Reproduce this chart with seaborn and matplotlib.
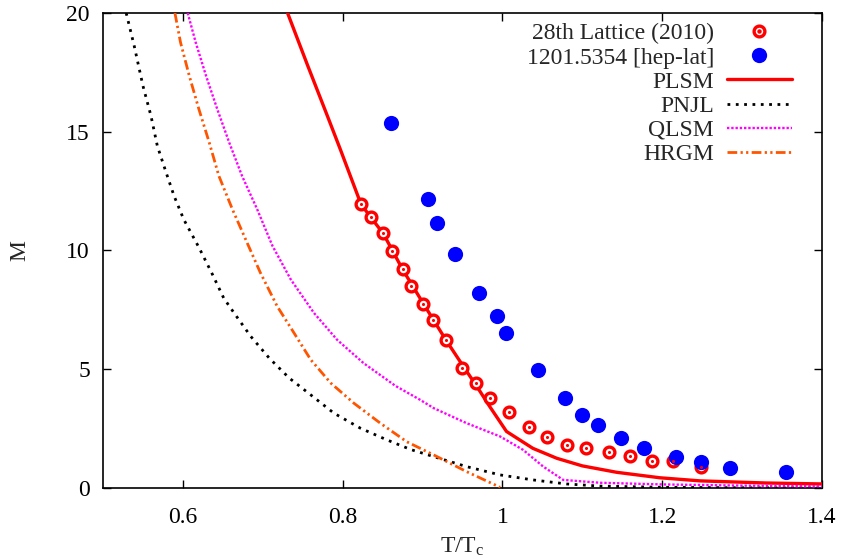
import matplotlib
matplotlib.use("Agg")
import matplotlib.pyplot as plt
import seaborn as sns
from matplotlib.lines import Line2D
from matplotlib.legend_handler import HandlerTuple

# Lattice data (red rings) and hep-lat data (blue dots)
lat_x = [0.823, 0.835, 0.851, 0.862, 0.875, 0.886, 0.901, 0.913, 0.929, 0.949, 0.967,
         0.984, 1.008, 1.033, 1.056, 1.081, 1.104, 1.133, 1.159, 1.187, 1.213, 1.248]
lat_y = [11.94, 11.39, 10.72, 9.96, 9.2, 8.52, 7.76, 7.09, 6.24, 5.06, 4.43,
         3.80, 3.21, 2.57, 2.15, 1.81, 1.69, 1.52, 1.35, 1.14, 1.14, 0.89]

hep_x = [0.861, 0.907, 0.918, 0.941, 0.971, 0.993, 1.004, 1.044, 1.078, 1.099,
         1.119, 1.148, 1.177, 1.217, 1.248, 1.285, 1.355]
hep_y = [15.36, 12.15, 11.14, 9.87, 8.23, 7.26, 6.54, 4.98, 3.80, 3.08,
         2.66, 2.11, 1.69, 1.31, 1.10, 0.84, 0.68]

# Model curves
plsm_x = [0.731, 0.756, 0.781, 0.797, 0.810, 0.823, 0.851, 0.875, 0.901, 0.929, 0.951,
          0.968, 0.984, 1.005, 1.038, 1.068, 1.100, 1.143, 1.197, 1.247, 1.330, 1.400]
plsm_y = [20.0, 17.8, 15.65, 14.26, 13.1, 11.94, 10.7, 9.2, 7.76, 6.24, 5.12,
          4.27, 3.43, 2.38, 1.67, 1.25, 0.93, 0.66, 0.43, 0.30, 0.21, 0.17]

pnjl_x = [0.529, 0.539, 0.550, 0.560, 0.568, 0.579, 0.589, 0.601, 0.620, 0.637, 0.651,
          0.664, 0.685, 0.708, 0.733, 0.760, 0.789, 0.822, 0.855, 0.885, 0.914, 0.955,
          0.997, 1.038, 1.080, 1.122, 1.20, 1.30, 1.40]
pnjl_y = [20.0, 18.62, 16.93, 15.67, 14.40, 13.28, 12.29, 11.31, 10.13, 8.99, 8.00,
          7.37, 6.38, 5.47, 4.63, 3.92, 3.15, 2.52, 2.03, 1.62, 1.32, 0.90,
          0.55, 0.34, 0.17, 0.08, 0.03, 0.01, 0.0]

qlsm_x = [0.606, 0.616, 0.629, 0.643, 0.658, 0.674, 0.693, 0.712, 0.735, 0.764, 0.793,
          0.826, 0.866, 0.897, 0.914, 0.955, 0.997, 1.026, 1.051, 1.076, 1.122, 1.20,
          1.30, 1.40]
qlsm_y = [20.0, 18.76, 17.35, 15.95, 14.54, 13.14, 11.73, 10.2, 8.78, 7.37, 6.24,
          5.26, 4.30, 3.71, 3.36, 2.73, 2.17, 1.60, 0.90, 0.34, 0.22, 0.15,
          0.10, 0.07]

hrgm_x = [0.590, 0.597, 0.608, 0.620, 0.633, 0.645, 0.662, 0.682, 0.697, 0.718, 0.739,
          0.760, 0.785, 0.814, 0.847, 0.880, 0.914, 0.955, 0.997]
hrgm_y = [20.0, 18.76, 17.35, 15.95, 14.54, 13.14, 11.73, 10.2, 9.06, 7.65, 6.53,
          5.40, 4.42, 3.57, 2.73, 1.95, 1.39, 0.69, 0.03]

xticks = [0.6, 0.8, 1.0, 1.2, 1.4]
xtick_labels = ["0.6", "0.8", "1", "1.2", "1.4"]
yticks = [0, 5, 10, 15, 20]

sns.set_style("ticks")
plt.rcParams['font.family'] = ['Liberation Serif', 'DejaVu Serif']
plt.rcParams['mathtext.fontset'] = 'custom'
plt.rcParams['mathtext.rm'] = 'Liberation Serif'
plt.rcParams['mathtext.it'] = 'Liberation Serif'

fig = plt.figure(figsize=(8.41, 5.6), dpi=100)
ax = fig.add_axes([0.1225, 0.1286, 0.855, 0.8482])

red = "#ff0000"
blue = "#0000ff"
magenta = "#ff00ff"
orange = "#ff5500"

pnjl_dash = (1, 2)
qlsm_dash = (1, 0.8)
hrgm_dash = (3.5, 1.2, 0.8, 1.2, 0.8, 1.2)

sns.lineplot(x=plsm_x, y=plsm_y, ax=ax, color=red, lw=2.4, sort=False, zorder=3)
sns.lineplot(x=pnjl_x, y=pnjl_y, ax=ax, color="black", lw=2.0, sort=False, zorder=3)
ax.lines[-1].set_dashes(pnjl_dash)
sns.lineplot(x=qlsm_x, y=qlsm_y, ax=ax, color=magenta, lw=1.7, sort=False, zorder=3)
ax.lines[-1].set_dashes(qlsm_dash)
sns.lineplot(x=hrgm_x, y=hrgm_y, ax=ax, color=orange, lw=2.0, sort=False, zorder=3)
ax.lines[-1].set_dashes(hrgm_dash)

# lattice points: ring with centre dot
sns.scatterplot(x=lat_x, y=lat_y, ax=ax, s=60, facecolor="white", edgecolor=red,
                linewidth=2.4, zorder=4)
sns.scatterplot(x=lat_x, y=lat_y, ax=ax, s=5, color=red, linewidth=0, zorder=5)
sns.scatterplot(x=hep_x, y=hep_y, ax=ax, s=120, color=blue, linewidth=0, zorder=4)

ax.set_xlim(0.5, 1.4)
ax.set_ylim(0, 20)
ax.set_xticks(xticks)
ax.set_xticklabels(xtick_labels)
ax.set_yticks(yticks)
ax.tick_params(direction="in", length=5.5, width=1, labelsize=17, top=True, right=True,
               colors="black")
ax.tick_params(axis="x", pad=13.5)
ax.tick_params(axis="y", pad=9.5)
for sp in ax.spines.values():
    sp.set_linewidth(1.2)
    sp.set_color("black")

ax.set_xlabel(r"T/T$_\mathrm{c}$", fontsize=17, labelpad=6)
ax.set_ylabel("M", fontsize=17, labelpad=26)

h_lat = (Line2D([], [], ls="none", marker="o", ms=7.75, mfc="white", mec=red, mew=2.4),
         Line2D([], [], ls="none", marker="o", ms=2.2, color=red))
h_hep = Line2D([], [], ls="none", marker="o", ms=11, color=blue, mew=0)
h_plsm = Line2D([], [], color=red, lw=2.4)
h_pnjl = Line2D([], [], color="black", lw=2.0, dashes=pnjl_dash)
h_qlsm = Line2D([], [], color=magenta, lw=1.7, dashes=qlsm_dash)
h_hrgm = Line2D([], [], color=orange, lw=2.0, dashes=hrgm_dash)

ax.legend([h_lat, h_hep, h_plsm, h_pnjl, h_qlsm, h_hrgm],
          ["28th Lattice (2010)", "1201.5354 [hep-lat]", "PLSM", "PNJL", "QLSM", "HRGM"],
          handler_map={tuple: HandlerTuple(ndivide=1, pad=0)},
          loc="upper right", bbox_to_anchor=(0.958, 0.979), frameon=False,
          markerfirst=False, fontsize=17, handlelength=2.75, handletextpad=0.55,
          labelspacing=0.11, borderaxespad=0, borderpad=0)

fig.savefig("out.png", dpi=100)
